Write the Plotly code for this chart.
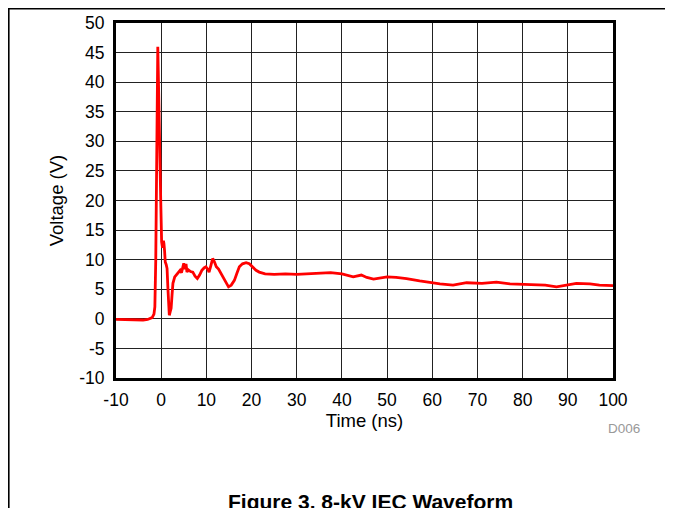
import plotly.graph_objects as go

# Time (ns) and voltage (V) samples
time_ns = [-10, -8, -6, -4, -3, -2.5, -2, -1.6, -1.4, -1.2, -1.0, -0.85, -0.75, -0.65,
           -0.5, -0.3, -0.1, 0.1, 0.3, 0.5, 0.6, 0.75, 0.9, 1.1, 1.3, 1.5, 1.7, 1.8,
           2.0, 2.2, 2.4, 2.6, 3.0, 3.4, 3.8, 4.2, 4.5, 4.8, 5.0, 5.3, 5.5, 5.7, 6.0,
           6.5, 7.0, 7.5, 8.0, 8.5, 9.0, 9.5, 9.9, 10.3, 10.6, 11.0, 11.4, 11.8, 12.2,
           12.7, 13.2, 13.8, 14.4, 14.9, 15.5, 16.2, 16.8, 17.3, 18.0, 18.8, 19.5,
           20.3, 21.0, 21.7, 23, 25, 27.5, 30, 32.5, 35, 37.5, 40, 42.5, 44.3, 45.5,
           47, 48.5, 50, 52, 54.3, 57.2, 59.5, 61.7, 64.6, 67.6, 71, 74.2, 77.2, 81.6,
           85, 87.5, 89, 91.9, 94.9, 97, 100]
voltage_v = [-0.1, -0.15, -0.1, -0.2, -0.1, 0.0, 0.2, 0.8, 2.0, 10, 30, 44, 46, 42,
             33, 28, 20, 13, 12, 13.2, 12.8, 11.5, 9.6, 9.2, 8.5, 5, 2, 0.6,
             1.2, 1.8, 4, 6.0, 7.1, 7.5, 8.0, 8.2, 7.8, 9.0, 9.4, 8.4, 9.3, 7.9, 8.3,
             8.0, 7.9, 7.2, 6.8, 7.4, 8.2, 8.6, 8.8, 8.4, 7.9, 9.0, 10.2, 9.6, 8.8,
             8.4, 7.7, 6.8, 5.9, 5.4, 5.7, 6.5, 7.8, 8.8, 9.3, 9.5, 9.3,
             8.7, 8.2, 7.9, 7.6, 7.5, 7.6, 7.5, 7.6, 7.8, 7.8, 7.6, 7.1, 7.4, 7.0,
             6.7, 6.9, 7.1, 7.0, 6.8, 6.4, 6.1, 5.9, 5.7, 6.1, 6.0, 6.2, 5.9, 5.8,
             5.7, 5.4, 5.6, 6.0, 5.9, 5.7, 5.6]

x_ticks = [-10, 0, 10, 20, 30, 40, 50, 60, 70, 80, 90, 100]
y_ticks = [-10, -5, 0, 5, 10, 15, 20, 25, 30, 35, 40, 45, 50]

FONT = "Liberation Sans, Arial, sans-serif"

fig = go.Figure()
fig.add_trace(go.Scatter(x=time_ns, y=voltage_v, mode="lines",
                         line=dict(color="#ff0000", width=2.8), showlegend=False))

# the page body adds an 8px offset; layout pixels below are page pixels minus that
OFF = 8
W, H = 673, 508
L, R, T, B = 116 - OFF, 613 - OFF, 23 - OFF, 378 - OFF
fig.update_layout(
    width=W, height=H,
    margin=dict(l=L, r=W - R, t=T, b=H - B, pad=0, autoexpand=False),
    paper_bgcolor="white", plot_bgcolor="white",
    font=dict(family=FONT, color="black", size=17.5),
)
fig.update_xaxes(range=[-10, 100], tickvals=x_ticks, ticktext=[str(v) for v in x_ticks],
                 showgrid=True, gridcolor="#222", gridwidth=1, zeroline=False,
                 showline=True, linecolor="black", linewidth=3, mirror=True,
                 ticks="", tickfont=dict(size=17.5), ticklabelstandoff=4,
                 automargin=False,
                 title=dict(text="Time (ns)", font=dict(size=18.5), standoff=2))
fig.update_yaxes(range=[-10, 50], tickvals=y_ticks, ticktext=[str(v) for v in y_ticks],
                 showgrid=True, gridcolor="#222", gridwidth=1, zeroline=False,
                 showline=True, linecolor="black", linewidth=3, mirror=True,
                 ticks="", tickfont=dict(size=17.5), ticklabelstandoff=5,
                 automargin=False,
                 title=dict(text="Voltage (V)", font=dict(size=18.5), standoff=11))

def px_x(p):
    return (p - OFF - L) / (R - L)

def px_y(p):
    return (B - (p - OFF)) / (B - T)

# page frame lines (as close to the page edge as the figure allows)
fig.add_shape(type="line", xref="paper", yref="paper", x0=px_x(OFF), x1=px_x(680),
              y0=px_y(OFF + 0.8), y1=px_y(OFF + 0.8), line=dict(color="black", width=1.6))
fig.add_shape(type="line", xref="paper", yref="paper", x0=px_x(OFF + 0.8), x1=px_x(OFF + 0.8),
              y0=px_y(OFF), y1=px_y(520), line=dict(color="black", width=1.6))

fig.add_annotation(text="D006", xref="paper", yref="paper", x=px_x(642), y=px_y(428.5),
                   xanchor="right", yanchor="middle", showarrow=False,
                   font=dict(size=13.5, color="#999999", family=FONT))
fig.add_annotation(text="<b>Figure 3. 8-kV IEC Waveform</b>", xref="paper", yref="paper",
                   x=px_x(370), y=px_y(488), xanchor="center", yanchor="top",
                   showarrow=False, font=dict(size=21, color="black", family=FONT))

fig.write_html("out.html")
